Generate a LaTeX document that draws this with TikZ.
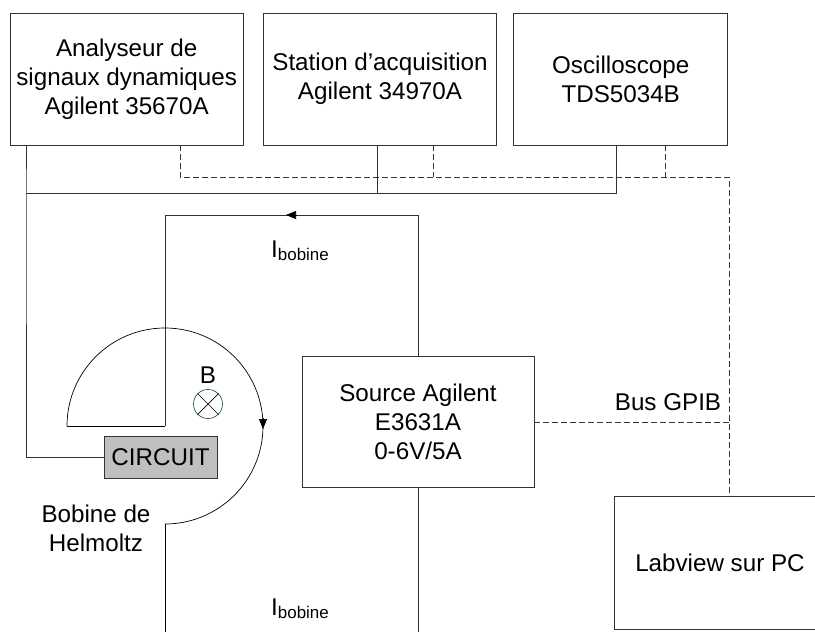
\documentclass[tikz,border=0pt]{standalone}
\usepackage{fontspec}
\setmainfont{Liberation Sans}
\usetikzlibrary{arrows.meta}
\definecolor{wire}{HTML}{333333}
\definecolor{crossc}{HTML}{2F5D43}
\tikzset{
  devbox/.style={draw=wire,line width=0.9bp,fill=white,align=center,inner sep=0pt,font=\fontsize{24.2bp}{29bp}\selectfont},
  lab/.style={inner sep=0pt,align=center,font=\fontsize{24.2bp}{29bp}\selectfont},
  solidwire/.style={draw=wire,line width=0.9bp},
  thinwire/.style={draw=black,line width=0.7bp},
  buswire/.style={draw=wire,line width=0.9bp,dash pattern=on 6bp off 3bp},
  tip/.style={-{Triangle[length=10bp,width=8bp]},draw=black,line width=0.7bp}
}
\begin{document}
\begin{tikzpicture}[x=1bp,y=-1bp]
\useasboundingbox (0,0) rectangle (815,633);
\clip (0,0) rectangle (815,633);
\fill[white] (0,0) rectangle (815,633);
% boxes
\node[devbox,minimum width=233bp,minimum height=132bp] (an) at (126.7,79) {Analyseur de\\signaux dynamiques\\Agilent 35670A};
\node[devbox,minimum width=233bp,minimum height=132bp] (st) at (380,79) {Station d’acquisition\\Agilent 34970A};
\node[devbox,minimum width=214bp,minimum height=132bp] (os) at (620.7,79) {Oscilloscope\\TDS5034B};
\node[devbox,minimum width=232bp,minimum height=131bp] (src) at (418,421.5) {Source Agilent\\E3631A\\0-6V/5A};
\node[devbox,minimum width=212bp,minimum height=133bp] (pc) at (720,562.5) {Labview sur PC};
\node[devbox,fill=black!25,minimum width=113bp,minimum height=42bp] (cir) at (160.5,457) {CIRCUIT};
\node[draw=crossc,line width=0.7bp,circle,minimum size=29bp,inner sep=0pt] (bc) at (208,404) {};
\draw[draw=black,line width=0.7bp] (bc.45) -- (bc.225) (bc.135) -- (bc.315);
% labels
\node[lab] (blab) at (208,375) {B};
\node[lab] (bob) at (96,528.5) {Bobine de\\Helmoltz};
\node[lab] (bus) at (668,402) {Bus GPIB};
\node[lab,anchor=base west] (i1) at (271,257) {I\textsubscript{bobine}};
\node[lab,anchor=base west] (i2) at (271,615) {I\textsubscript{bobine}};
% named points
\coordinate (j1) at (26,193);
\coordinate (j2) at (377,193);
\coordinate (j3) at (616,193);
\coordinate (d1) at (180,177);
\coordinate (d2) at (433.5,177);
\coordinate (d3) at (665.5,177);
\coordinate (d4) at (729,177);
\coordinate (d5) at (729,422);
\coordinate (c1) at (418,215);
\coordinate (c2) at (165,215);
\coordinate (c3) at (165,426);
\coordinate (c4) at (67,426);
\coordinate (c5) at (165,524);
\coordinate (c6) at (165,632);
\coordinate (c7) at (418,632);
% solid measurement bus
\draw[solidwire] (an.south -| j1) -- (j1) |- (cir.west);
\draw[solidwire] (j1) -- (j3) -- (os.south -| j3);
\draw[solidwire] (st.south -| j2) -- (j2);
% dashed GPIB bus
\draw[buswire] (an.south -| d1) -- (d1) -- (d4) -- (pc.north -| d4);
\draw[buswire] (st.south -| d2) -- (d2);
\draw[buswire] (os.south -| d3) -- (d3);
\draw[buswire] (src.east |- d5) -- (d5);
% coil circuit
\draw[solidwire] (src.north -| c1) -- (c1) -- (c2) -- (c3);
\draw[thinwire] (c3) -- (c4);
\draw[thinwire] (c4) arc[start angle=180,end angle=450,radius=98];
\draw[thinwire] (c5) -- (c6);
\draw[solidwire] (src.south -| c7) -- (c7);
% arrowheads
\coordinate (a1) at (297,215);
\coordinate (a2) at (286,215);
\coordinate (a3) at (263,418);
\coordinate (a4) at (263,429);
\draw[tip] (a1) -- (a2);
\draw[tip] (a3) -- (a4);
\end{tikzpicture}
\end{document}
